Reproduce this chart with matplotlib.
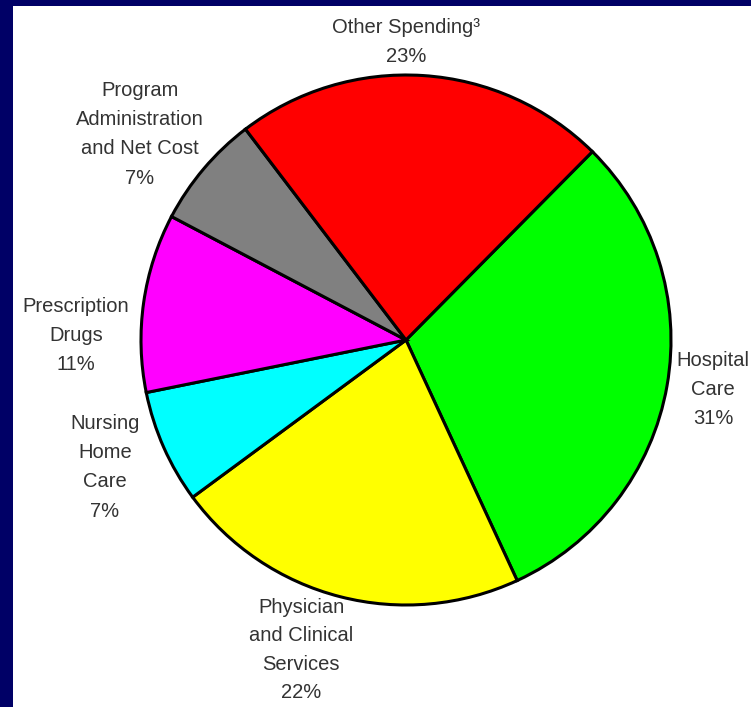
import matplotlib
matplotlib.use('Agg')
import matplotlib.pyplot as plt

plt.rcParams['font.family'] = ['Liberation Sans', 'DejaVu Sans']

# spending shares, clockwise from the upper right
categories = ['Hospital\nCare', 'Physician\nand Clinical\nServices', 'Nursing\nHome\nCare',
              'Prescription\nDrugs', 'Program\nAdministration\nand Net Cost', 'Other Spending\u00b3']
shares = [31, 22, 7, 11, 7, 23]
colors = ['#00ff00', '#ffff00', '#00ffff', '#ff00ff', '#808080', '#ff0000']

# label anchor (pixel x, pixel y of first line top) for each slice
label_pos = [(713, 351), (301, 598), (105, 414), (76, 297), (140, 81), (406, 18)]

W, H = 751, 707
fig = plt.figure(figsize=(W / 100, H / 100), dpi=100)
fig.patch.set_facecolor('#000066')

# white slide panel
ax = fig.add_axes([13 / W, 0, 1 - 13 / W, 1 - 6 / H])
ax.set_facecolor('white')

ax.pie(shares, colors=colors, startangle=45.3, counterclock=False,
       center=(406, H - 340), radius=265, frame=True,
       wedgeprops=dict(edgecolor='black', linewidth=2.2))
ax.set_xlim(13, W)
ax.set_ylim(0, H - 6)
ax.set_aspect('equal')
ax.set_xticks([])
ax.set_yticks([])
for s in ax.spines.values():
    s.set_visible(False)

for i, (name, pct, (x, y)) in enumerate(zip(categories, shares, label_pos)):
    # the bottom label is packed a little tighter so it stays on the panel
    ls = 1.62 if i == 1 else 1.68
    ax.text(x, H - y, f'{name}\n{pct}%', ha='center', va='top', fontsize=14.5,
            color='#333333', linespacing=ls, clip_on=False)

fig.savefig('out.png', dpi=100, facecolor=fig.get_facecolor())
